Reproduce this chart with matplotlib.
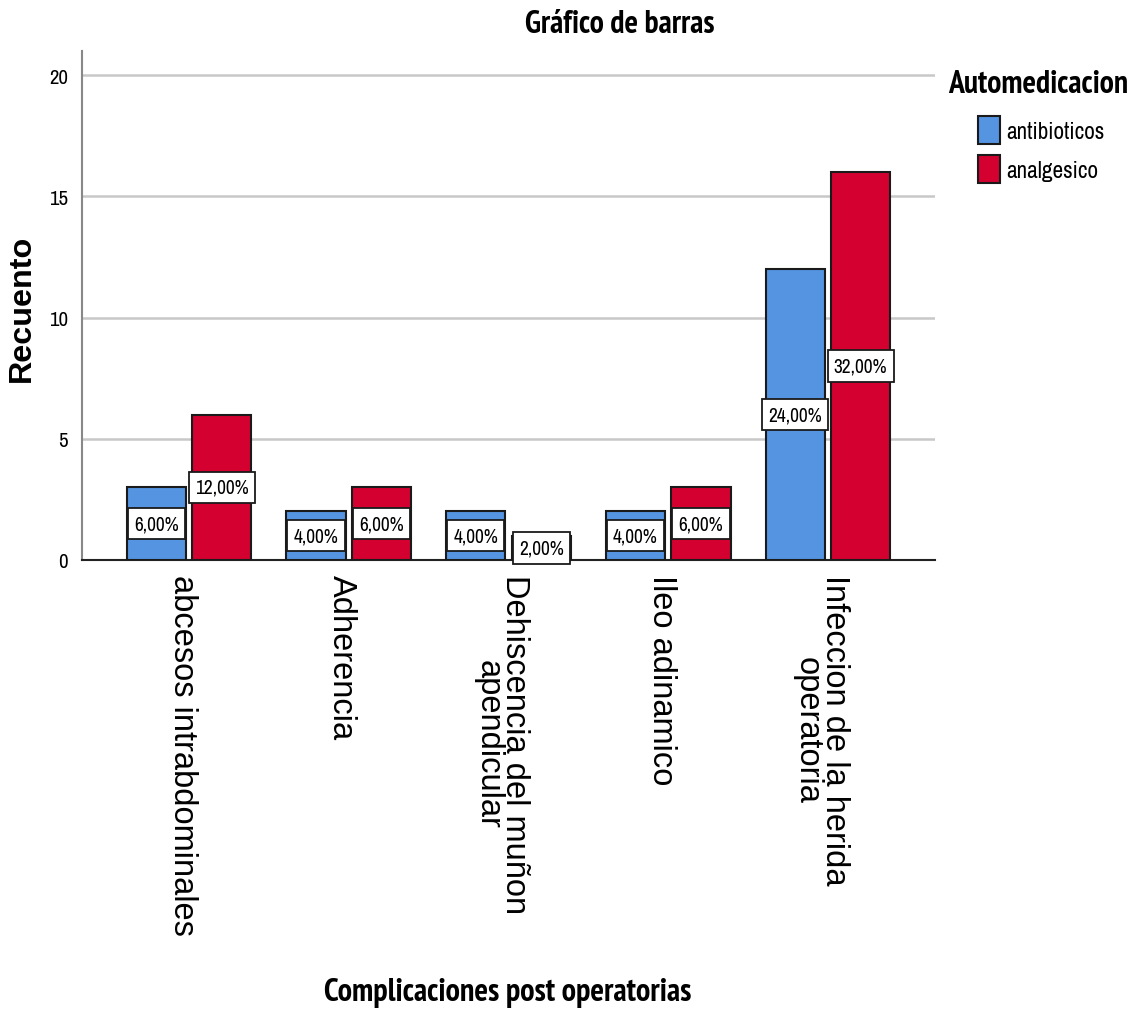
import matplotlib.pyplot as plt
import matplotlib.transforms as mtransforms
import numpy as np
from matplotlib import font_manager

categories = ["abcesos intrabdominales", "Adherencia",
              "Dehiscencia del muñon\napendicular", "Ileo adinamico",
              "Infeccion de la herida\noperatoria"]
antibioticos = [3, 2, 2, 2, 12]
analgesico = [6, 3, 1, 3, 16]
pct_antibioticos = ["6,00%", "4,00%", "4,00%", "4,00%", "24,00%"]
pct_analgesico = ["12,00%", "6,00%", "2,00%", "6,00%", "32,00%"]
yticks = [0, 5, 10, 15, 20]
series = ["antibioticos", "analgesico"]

BLUE = "#5494E0"
RED = "#D4002F"

# the reference uses a narrow face for horizontal text; take one if it is there
candidates = ["Liberation Sans Narrow", "Arimo Narrow", "Archivo Narrow",
              "PT Sans Narrow", "Roboto Condensed", "Open Sans Condensed"]
faces = font_manager.fontManager.ttflist
WIDE = "Liberation Sans"
NARROW = next((c for c in candidates if any(f.name == c for f in faces)), WIDE)
NARROW_BOLD = next((c for c in candidates
                    if any(f.name == c and f.weight in (700, "bold") for f in faces)), WIDE)
plt.rcParams['font.family'] = [NARROW, 'DejaVu Sans']

fig = plt.figure(figsize=(11.42, 10.12), dpi=100)
ax = fig.add_axes([0.0718, 0.4457, 0.7469, 0.5029])
renderer = fig.canvas.get_renderer()


def fit(t, target_px):
    bb = t.get_window_extent(renderer)
    length = max(bb.width, bb.height)
    t.set_fontsize(t.get_fontsize() * target_px / length)


x = np.arange(len(categories))
w = 0.37
off = 0.205
b1 = ax.bar(x - off, antibioticos, w, color=BLUE, edgecolor="#1a1a1a", linewidth=1.5, zorder=3)
b2 = ax.bar(x + off, analgesico, w, color=RED, edgecolor="#1a1a1a", linewidth=1.5, zorder=3)

box = dict(boxstyle="square,pad=0.32", facecolor="white", edgecolor="#1a1a1a", linewidth=1.3)
probe = ax.text(0, 0, "12,00%", fontsize=12)
fit(probe, 54)
pct_size = probe.get_fontsize()
probe.remove()
for xi, v, s in zip(x - off, antibioticos, pct_antibioticos):
    ax.text(xi, v / 2, s, ha="center", va="center", fontsize=pct_size, bbox=box, zorder=4)
for xi, v, s in zip(x + off, analgesico, pct_analgesico):
    ax.text(xi, v / 2, s, ha="center", va="center", fontsize=pct_size, bbox=box, zorder=4)

ax.set_xlim(-0.67, 4.67)
ax.set_ylim(0, 21)
ax.set_yticks(yticks)
ax.set_yticklabels([str(t) for t in yticks], fontsize=15 if NARROW != WIDE else 12.5)
ax.yaxis.grid(True, color="#c8c8c8", linewidth=1.8, zorder=0)
ax.set_axisbelow(True)
ax.tick_params(axis="both", length=0)
ax.tick_params(axis="y", pad=10)
ax.set_xticks(x)
ax.set_xticklabels(categories, rotation=-90, fontsize=23.5, family=WIDE,
                   va="top", ha="center", linespacing=0.82)
ax.tick_params(axis="x", pad=10)
shift = mtransforms.ScaledTranslation(-7 / 100, 0, fig.dpi_scale_trans)
for lab in ax.get_xticklabels():
    lab.set_transform(lab.get_transform() + shift)

for s in ["top", "right"]:
    ax.spines[s].set_visible(False)
ax.spines["left"].set_color("#888888")
ax.spines["left"].set_linewidth(1.5)
ax.spines["bottom"].set_color("#222222")
ax.spines["bottom"].set_linewidth(1.5)

ylab = fig.text(22 / 1142, 1 - 308 / 1012, "Recuento", rotation=90, ha="center", va="center",
                fontsize=20, fontweight="bold", family=WIDE)
xlab = fig.text(508 / 1142, 1 - 993 / 1012, "Complicaciones post operatorias",
                ha="center", va="center", fontsize=17, fontweight="bold", family=NARROW_BOLD)
title = fig.text(620 / 1142, 1 - 25 / 1012, "Gráfico de barras", ha="center", va="center",
                 fontsize=16, fontweight="bold", family=NARROW_BOLD)
legtitle = fig.text(948 / 1142, 1 - 85 / 1012, "Automedicacion", ha="left", va="center",
                    fontsize=16, fontweight="bold", family=NARROW_BOLD)
fit(ylab, 148)
fit(xlab, 368)
fit(title, 190)
fit(legtitle, 180)

probe = fig.text(0, 0, "antibioticos", fontsize=12)
fit(probe, 98)
leg_size = probe.get_fontsize()
probe.remove()

leg = fig.legend([b1, b2], series, loc="upper left",
                 bbox_to_anchor=(978 / 1142, 1 - 117 / 1012), frameon=False,
                 fontsize=leg_size, handlelength=0.95, handleheight=1.45,
                 handletextpad=0.25, labelspacing=0.5, borderpad=0, borderaxespad=0)

fig.savefig("out.png", dpi=100)
